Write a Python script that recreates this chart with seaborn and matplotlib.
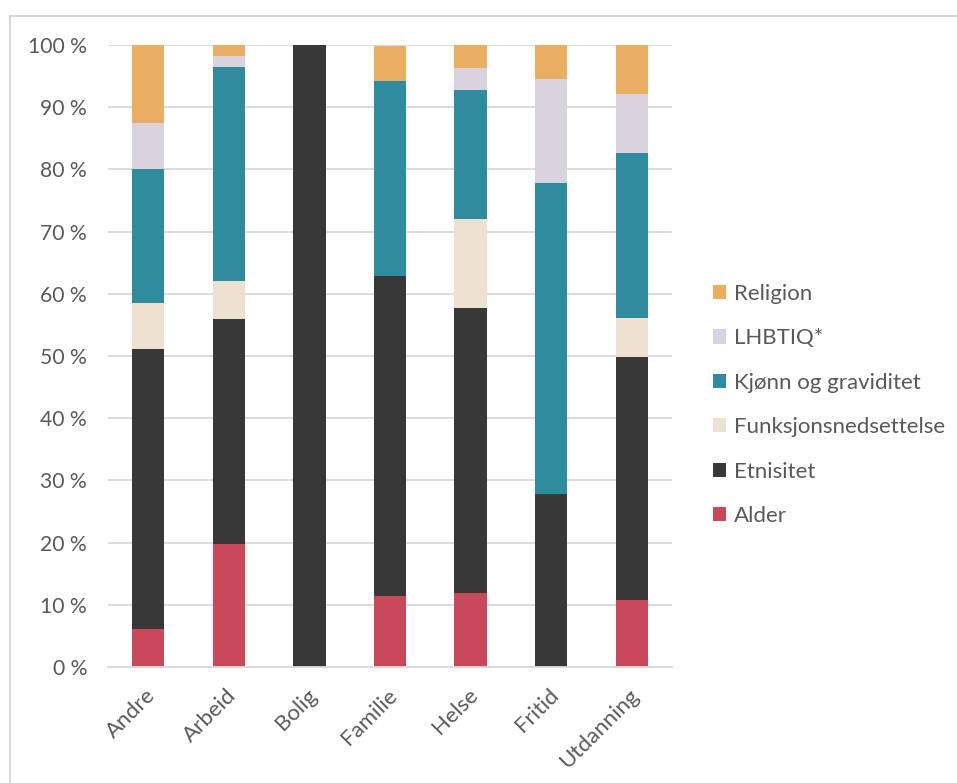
import pandas as pd
import matplotlib.pyplot as plt
import matplotlib.transforms as mtransforms
import seaborn as sns
from matplotlib.patches import Rectangle
from matplotlib.ticker import FuncFormatter

# kategorier langs x-aksen
categories = ["Andre", "Arbeid", "Bolig", "Familie", "Helse", "Fritid", "Utdanning"]

# andel (%) per grunnlag, lest av figuren
alder = [6.1, 19.7, 0.0, 11.4, 11.9, 0.0, 10.8]
etnisitet = [45.0, 36.2, 100.0, 51.4, 45.8, 27.8, 39.1]
funksjon = [7.5, 6.1, 0.0, 0.0, 14.4, 0.0, 6.2]
kjonn = [21.4, 34.5, 0.0, 31.4, 20.6, 50.0, 26.6]
lhbtiq = [7.5, 1.7, 0.0, 0.0, 3.6, 16.7, 9.4]
religion = [12.5, 1.8, 0.0, 5.7, 3.7, 5.6, 7.9]

series_names = ["Religion", "LHBTIQ*", "Kjønn og graviditet",
                "Funksjonsnedsettelse", "Etnisitet", "Alder"]
series_values = [religion, lhbtiq, kjonn, funksjon, etnisitet, alder]
colors = ["#E9AE62", "#D9D3E0", "#2E8C9E", "#EDE1D1", "#383838", "#C84A5A"]

rows = []
for name, vals in zip(series_names, series_values):
    for cat, v in zip(categories, vals):
        rows.append({"kategori": cat, "grunnlag": name, "andel": v})
df = pd.DataFrame(rows)
df["kategori"] = pd.Categorical(df["kategori"], categories=categories, ordered=True)

sns.set_style("white")
plt.rcParams["font.family"] = ["Lato", "DejaVu Sans"]
text_color = "#595959"
grid_color = "#D9D9D9"

fig = plt.figure(figsize=(9.57, 7.83), dpi=100)
ax = fig.add_axes([108 / 957, 1 - 667 / 783, (672 - 108) / 957, (667 - 45) / 783])

# stablet histogram med vekter gir stablede kategoristolper
sns.histplot(data=df, x="kategori", hue="grunnlag", weights="andel",
             hue_order=series_names, palette=colors, multiple="stack",
             discrete=True, shrink=0.4, alpha=1, linewidth=0, ax=ax)

ax.set_ylim(0, 100)
ax.set_xlim(-0.5, 6.5)
ax.set_yticks(range(0, 101, 10))
ax.yaxis.set_major_formatter(FuncFormatter(lambda v, p: f"{int(v)} %"))
ax.set_xlabel("")
ax.set_ylabel("")
ax.grid(axis="y", color=grid_color, linewidth=1.3)
ax.set_axisbelow(True)
for s in ["top", "right", "left"]:
    ax.spines[s].set_visible(False)
ax.spines["bottom"].set_color(grid_color)
ax.spines["bottom"].set_linewidth(1.3)
ax.tick_params(axis="y", length=0, pad=15, labelsize=15.2, labelcolor=text_color)
ax.tick_params(axis="x", length=0, pad=13, labelsize=16, labelcolor=text_color)
ax.set_xticks(range(len(categories)))
ax.set_xticklabels(categories, rotation=45, ha="right", rotation_mode="anchor")
shift = mtransforms.ScaledTranslation(-3 / 100, 0, fig.dpi_scale_trans)
for lab in ax.get_xticklabels():
    lab.set_transform(lab.get_transform() + shift)

sns.move_legend(ax, "center left", bbox_to_anchor=(713 / 957, 1 - 405 / 783),
                bbox_transform=fig.transFigure, frameon=False, title=None,
                fontsize=16, labelspacing=1.1, handlelength=0.6,
                handleheight=0.6, handletextpad=0.35, borderpad=0, borderaxespad=0)
for t in ax.get_legend().get_texts():
    t.set_color(text_color)

# ramme rundt hele figuren
fig.add_artist(Rectangle((10 / 957, -0.2), 1.2, 1.2 - 16 / 783,
                         transform=fig.transFigure, fill=False,
                         edgecolor=grid_color, linewidth=1.5))

fig.savefig("out.png", dpi=100)
